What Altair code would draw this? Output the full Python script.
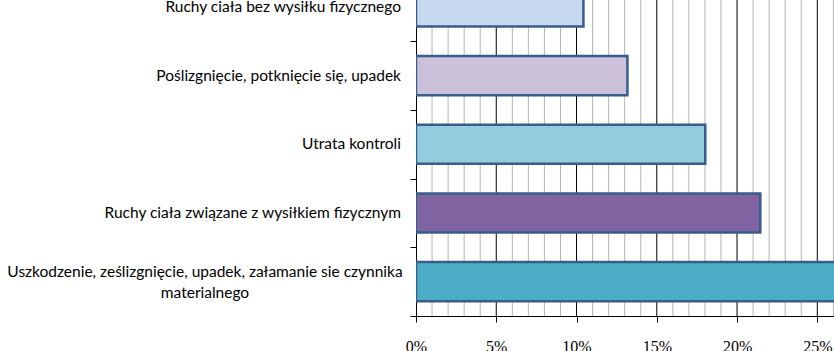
import altair as alt
import pandas as pd

categories = [
    "Uszkodzenie, ześlizgnięcie, upadek, załamanie sie czynnika materialnego",
    "Ruchy ciała związane z wysiłkiem fizycznym",
    "Utrata kontroli",
    "Poślizgnięcie, potknięcie się, upadek",
    "Ruchy ciała bez wysiłku fizycznego",
]
label_text = [
    "Uszkodzenie, ześlizgnięcie, upadek, załamanie sie czynnika\nmaterialnego",
    "Ruchy ciała związane z wysiłkiem fizycznym",
    "Utrata kontroli",
    "Poślizgnięcie, potknięcie się, upadek",
    "Ruchy ciała bez wysiłku fizycznego",
]
values = [0.275, 0.2145, 0.1802, 0.1317, 0.1043]
colors = ["#4BACC6", "#8064A2", "#93CDDD", "#CCC1DA", "#C6D9F1"]
positions = [0, 1, 2, 3, 4]
major_ticks = [0, 0.05, 0.10, 0.15, 0.20, 0.25]
minor_ticks = [i / 100 for i in range(1, 27) if i % 5 != 0]
band_edges = [-0.5, 0.5, 1.5, 2.5, 3.5]

df = pd.DataFrame({"cat": categories, "label": label_text, "val": values,
                   "color": colors, "pos": positions})
df["lo"] = df["pos"] - 0.285
df["hi"] = df["pos"] + 0.285
df["zero"] = 0.0

xscale = alt.Scale(domain=[0, 0.2604], nice=False, zero=True)
yscale = alt.Scale(domain=[-0.5, 4.1], nice=False, zero=False)

minor_df = pd.DataFrame({"v": minor_ticks})
major_df = pd.DataFrame({"v": major_ticks[1:]})

minor_grid = alt.Chart(minor_df).mark_rule(color="#b4b4b4", strokeWidth=1).encode(
    x=alt.X("v:Q", scale=xscale, axis=None)
)
major_grid = alt.Chart(major_df).mark_rule(color="#000000", strokeWidth=1).encode(
    x=alt.X("v:Q", scale=xscale, axis=None)
)

bars = alt.Chart(df).mark_rect(clip=True, stroke="#385D8A", strokeWidth=2.5).encode(
    x=alt.X("zero:Q", scale=xscale,
            axis=alt.Axis(values=major_ticks, format="%", title=None, grid=False,
                          domainColor="#000000", tickColor="#000000", tickSize=6,
                          labelFont="Liberation Serif", labelFontSize=16,
                          labelColor="#000000", labelPadding=16, labelFlush=False)),
    x2="val:Q",
    y=alt.Y("lo:Q", scale=yscale,
            axis=alt.Axis(values=band_edges, labels=False, title=None, grid=False,
                          domainColor="#000000", tickColor="#000000", tickSize=6)),
    y2="hi:Q",
    fill=alt.Color("color:N", scale=None),
)

labels_single = alt.Chart(df[df["pos"] > 0]).mark_text(
    align="right", baseline="middle", font="Lato", fontSize=15.5, color="#000000"
).encode(
    x=alt.value(-15),
    y=alt.Y("pos:Q", scale=yscale, axis=None),
    text="label:N",
)

labels_multi = alt.Chart(df[df["pos"] == 0]).mark_text(
    align="center", baseline="middle", font="Lato", fontSize=15.5, color="#000000",
    lineBreak="\n", lineHeight=21, dy=-10
).encode(
    x=alt.value(-211),
    y=alt.Y("pos:Q", scale=yscale, axis=None),
    text="label:N",
)

chart = alt.layer(minor_grid, major_grid, bars, labels_single, labels_multi).resolve_axis(
    x="independent", y="independent"
).properties(
    width=418, height=316,
    autosize=alt.AutoSizeParams(type="none"),
    padding={"left": 416, "top": 0, "right": 0, "bottom": 35},
).configure_view(stroke=None)

chart.save("out.html", embed_options={"renderer": "svg", "actions": False})
